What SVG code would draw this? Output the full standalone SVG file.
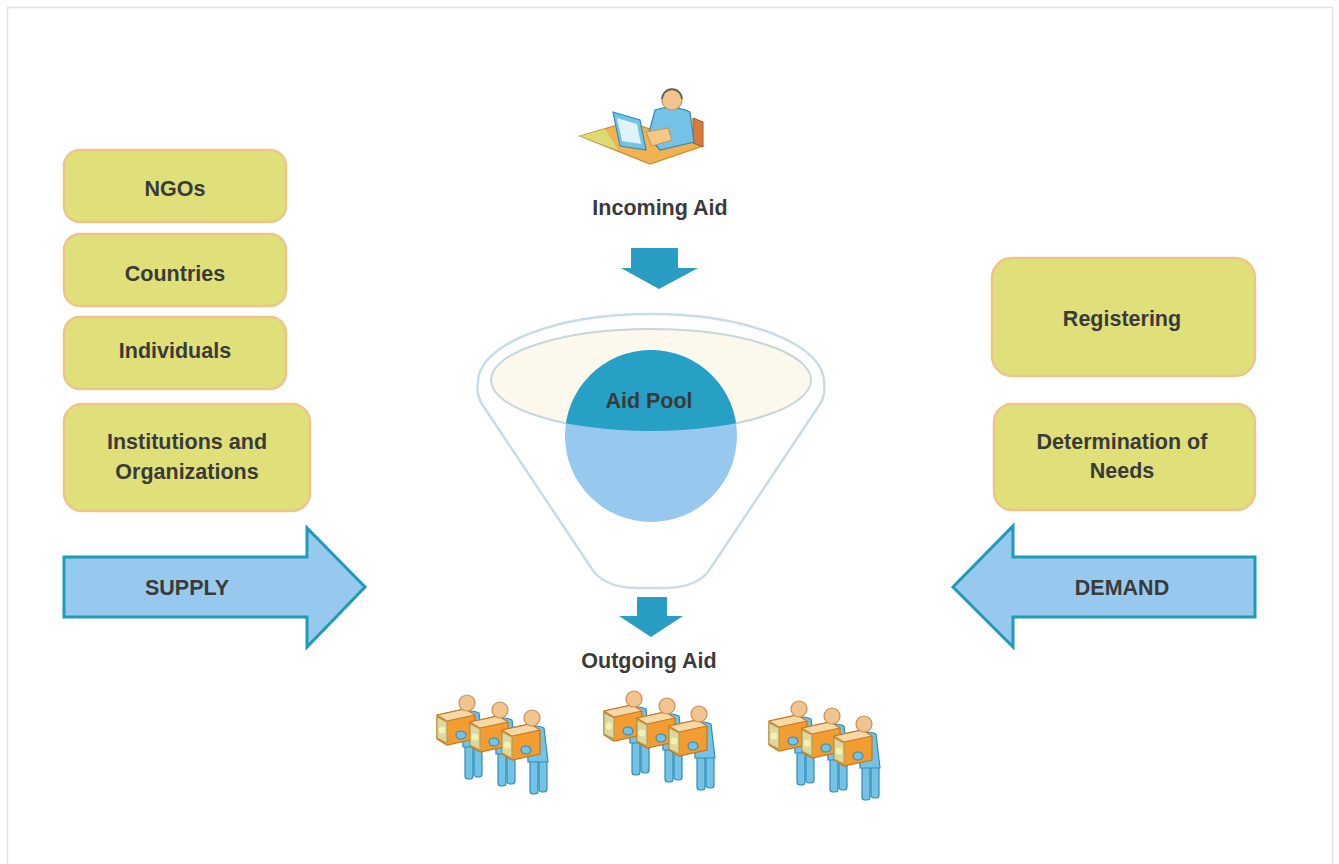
<svg xmlns="http://www.w3.org/2000/svg" width="1339" height="864" viewBox="0 0 1339 864">
<style>
.box{fill:#dfe079;stroke:#efc48a;stroke-width:2.5}
.lbl{font-family:"Liberation Sans",Arial,sans-serif;font-weight:bold;font-size:21.5px;fill:#3a3a3a;text-anchor:middle}
.big{fill:#97c9ee;stroke:#1f9bba;stroke-width:3;stroke-linejoin:miter}
.down{fill:#2a9dc5}
.skin{fill:#f1c38e;stroke:#c98f55;stroke-width:1.2}
.blue{fill:#74c3e6;stroke:#2f8db5;stroke-width:1.2}
.org{fill:#f39c32;stroke:#c9741d;stroke-width:1.2}
</style>
<defs>
<clipPath id="inEll"><ellipse cx="651" cy="380" rx="160" ry="51"/></clipPath>
<g id="fig">
<rect class="blue" x="-2" y="40" width="8" height="36" rx="3"/>
<rect class="blue" x="7" y="40" width="8" height="34" rx="3"/>
<path class="blue" d="M-5,10 Q4,6 12,10 L16,44 L-4,44 Z"/>
<path class="org" d="M-30,12 L-2,6 L8,12 L8,36 L-20,42 L-30,36 Z"/>
<path d="M-30,12 L-2,6 L8,12 L-20,18 Z" fill="#f6d9a6" stroke="#c9741d" stroke-width="1"/>
<path d="M-30,14 L-20,19 L-20,40 L-30,35 Z" fill="#dcd8a0" stroke="#a89a50" stroke-width="1"/>
<circle cx="-25" cy="27" r="3.5" fill="#f4f2b0"/>
<ellipse class="blue" cx="-6" cy="32" rx="5" ry="4"/>
<circle class="skin" cx="0" cy="0" r="8"/>
</g>
<g id="grp">
<use href="#fig" x="467" y="703"/>
<use href="#fig" x="500" y="710"/>
<use href="#fig" x="532" y="718"/>
</g>
</defs>
<rect x="7.5" y="7.5" width="1325" height="900" fill="#ffffff" stroke="#e2e2e2" stroke-width="1.5"/>

<g id="connectors">
<path class="down" d="M631,248 H678 V268 H698 L659,289 L621,268 H631 Z"/>
<path class="down" d="M637,597 H667 V616 H683 L651,637 L619,616 H637 Z"/>
</g>

<g id="incoming-icon">
<path d="M580,136 L628,122 L703,146 L650,164 Z" fill="#f1b24f" stroke="#c98a35" stroke-width="1.2"/>
<path d="M580,136 L605,129 L618,150 L598,143 Z" fill="#d9e37a" opacity="0.8"/>
<path d="M693,118 L703,122 L703,147 L693,143 Z" fill="#d97a3a" stroke="#a8552a" stroke-width="1"/>
<path class="blue" d="M613,112 L640,120 L646,150 L620,146 Z"/>
<path d="M617,118 L637,124 L641,144 L622,141 Z" fill="#dff3fb"/>
<path class="blue" d="M655,110 Q672,104 690,112 L694,142 L660,150 L648,136 Z"/>
<path d="M646,132 L668,128 L672,140 L652,146 Z" fill="#f4c886" stroke="#c98f55" stroke-width="1"/>
<circle class="skin" cx="672" cy="100" r="10"/>
<path d="M662,99 A10,10 0 0 1 682,99" fill="none" stroke="#555" stroke-width="1.5"/>
<text class="lbl" x="660" y="215">Incoming Aid</text>
</g>

<g id="funnel">
<path d="M478,382 A173,68 0 0 1 824,382 Q826,394 820,404 L712,566 Q700,588 664,588 L638,588 Q602,588 590,566 L482,404 Q476,394 478,382 Z" fill="#ffffff" stroke="#c7dce6" stroke-width="2.5"/>
<ellipse cx="651" cy="380" rx="160" ry="51" fill="#fdf8ec" stroke="#c8d5db" stroke-width="2"/>
</g>

<g id="aid-pool">
<circle cx="651" cy="436" r="86" fill="#97c9ee"/>
<circle cx="651" cy="436" r="86" fill="#27a0c5" clip-path="url(#inEll)"/>
<text class="lbl" x="649" y="408">Aid Pool</text>
</g>

<g id="outgoing">
<text class="lbl" x="649" y="668">Outgoing Aid</text>
<use href="#grp"/>
<use href="#grp" x="167" y="-4"/>
<use href="#grp" x="332" y="6"/>
</g>

<g id="ngos"><rect class="box" x="64" y="150" width="222" height="72" rx="16"/><text class="lbl" x="175" y="196">NGOs</text></g>
<g id="countries"><rect class="box" x="64" y="234" width="222" height="72" rx="16"/><text class="lbl" x="175" y="281">Countries</text></g>
<g id="individuals"><rect class="box" x="64" y="317" width="222" height="72" rx="16"/><text class="lbl" x="175" y="358">Individuals</text></g>
<g id="institutions"><rect class="box" x="64" y="404" width="246" height="107" rx="18"/><text class="lbl" x="187" y="449">Institutions and</text><text class="lbl" x="187" y="479">Organizations</text></g>
<g id="supply"><path class="big" d="M64,557 H307 V528 L365,587 L307,647 V617 H64 Z"/><text class="lbl" x="187" y="595">SUPPLY</text></g>

<g id="registering"><rect class="box" x="992" y="258" width="263" height="118" rx="20"/><text class="lbl" x="1122" y="326">Registering</text></g>
<g id="needs"><rect class="box" x="994" y="404" width="261" height="106" rx="18"/><text class="lbl" x="1122" y="449">Determination of</text><text class="lbl" x="1122" y="478">Needs</text></g>
<g id="demand"><path class="big" d="M1255,557 H1013 V526 L953,587 L1013,647 V617 H1255 Z"/><text class="lbl" x="1122" y="595">DEMAND</text></g>
</svg>
